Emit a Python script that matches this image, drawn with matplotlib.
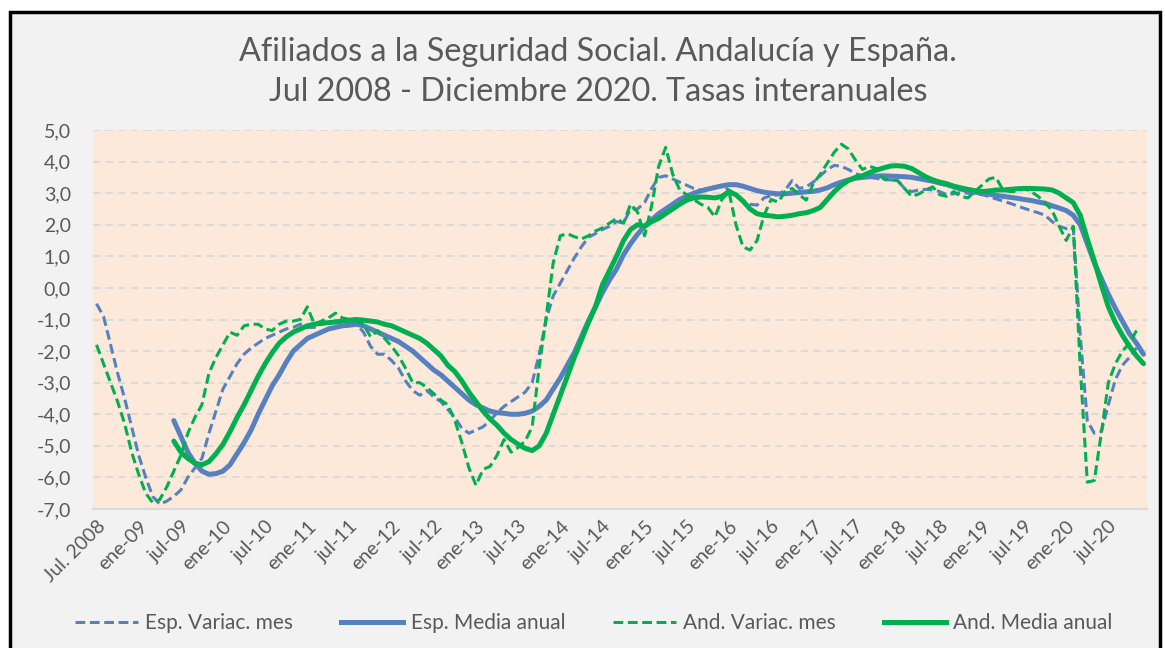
import numpy as np
import matplotlib
matplotlib.use("Agg")
import matplotlib.pyplot as plt
from matplotlib.patches import Rectangle
from matplotlib.lines import Line2D

nan = np.nan

# ---------------- DATA ----------------
title_text = ("Afiliados a la Seguridad Social. Andalucía y España.\n"
              "Jul 2008 - Diciembre 2020. Tasas interanuales")

series_names = ["Esp. Variac. mes", "Esp. Media anual",
                "And. Variac. mes", "And. Media anual"]

# monthly, Jul 2008 .. Dec 2020 (150 months)
esp_variac_mes = [
    -0.5, -0.9, -1.8, -2.7, -3.5, -4.4, -5.3, -6.0, -6.6, -6.85,
    -6.75, -6.6, -6.4, -6.0, -5.7, -5.4, -4.6, -3.9, -3.2, -2.8,
    -2.4, -2.1, -1.9, -1.75, -1.6, -1.5, -1.4, -1.3, -1.25, -1.15,
    -1.25, -1.25, -1.15, -1.1, -1.05, -1.05, -1.1, -1.15, -1.4, -1.85,
    -2.1, -2.1, -2.3, -2.55, -2.95, -3.25, -3.4, -3.25, -3.45, -3.6,
    -3.85, -4.1, -4.45, -4.6, -4.5, -4.4, -4.2, -3.95, -3.75, -3.6,
    -3.45, -3.3, -3.0, -2.1, -1.0, -0.25, 0.15, 0.55, 0.95, 1.3,
    1.6, 1.72, 1.85, 1.95, 2.1, 2.05, 2.5, 2.5, 2.7, 3.15,
    3.5, 3.55, 3.45, 3.35, 3.25, 3.15, 3.1, 3.15, 3.2, 3.25,
    3.1, 2.95, 2.78, 2.65, 2.62, 2.85, 2.92, 2.95, 3.1, 3.4,
    3.15, 3.2, 3.35, 3.55, 3.75, 3.88, 3.85, 3.75, 3.62, 3.55,
    3.5, 3.47, 3.43, 3.42, 3.4, 3.15, 3.05, 3.1, 3.12, 3.1,
    3.05, 2.95, 2.98, 3.02, 3.0, 2.98, 2.95, 2.9, 2.82, 2.75,
    2.68, 2.6, 2.52, 2.45, 2.38, 2.3, 2.1, 1.95, 1.88, 1.93,
    -1.5, -4.2, -4.6, -4.55, -3.7, -2.9, -2.45, -2.2, -1.9, nan,
]

esp_media_anual = [
    nan, nan, nan, nan, nan, nan, nan, nan, nan, nan,
    nan, -4.2, -4.7, -5.2, -5.55, -5.8, -5.9, -5.88, -5.8, -5.6,
    -5.25, -4.9, -4.5, -4.0, -3.55, -3.1, -2.75, -2.35, -2.0, -1.8,
    -1.6, -1.5, -1.4, -1.3, -1.25, -1.2, -1.18, -1.15, -1.2, -1.3,
    -1.4, -1.5, -1.6, -1.7, -1.85, -2.0, -2.2, -2.4, -2.6, -2.75,
    -2.95, -3.15, -3.35, -3.55, -3.7, -3.8, -3.9, -3.95, -3.97, -4.0,
    -4.0, -3.97, -3.9, -3.75, -3.55, -3.2, -2.85, -2.45, -2.05, -1.55,
    -1.05, -0.6, -0.15, 0.25, 0.6, 1.05, 1.4, 1.7, 1.95, 2.15,
    2.35, 2.5, 2.65, 2.8, 2.9, 3.0, 3.07, 3.13, 3.18, 3.23,
    3.27, 3.27, 3.22, 3.15, 3.08, 3.03, 3.0, 2.98, 2.98, 3.0,
    3.02, 3.04, 3.06, 3.1, 3.17, 3.27, 3.35, 3.42, 3.47, 3.5,
    3.52, 3.54, 3.55, 3.54, 3.53, 3.52, 3.5, 3.46, 3.42, 3.38,
    3.32, 3.27, 3.2, 3.13, 3.07, 3.03, 3.0, 2.97, 2.93, 2.9,
    2.87, 2.84, 2.8, 2.77, 2.72, 2.68, 2.6, 2.53, 2.45, 2.3,
    2.0, 1.4, 0.8, 0.3, -0.2, -0.65, -1.05, -1.45, -1.75, -2.1,
]

and_variac_mes = [
    -1.8, -2.4, -3.0, -3.6, -4.3, -5.2, -5.9, -6.5, -6.8, -6.7,
    -6.3, -5.8, -5.3, -4.6, -4.1, -3.7, -2.7, -2.2, -1.8, -1.4,
    -1.5, -1.2, -1.15, -1.15, -1.3, -1.35, -1.15, -1.05, -1.05, -1.0,
    -0.6, -1.15, -1.05, -0.95, -0.8, -0.95, -1.0, -1.05, -1.15, -1.55,
    -1.35, -1.6, -1.85, -2.15, -2.55, -3.0, -3.0, -3.15, -3.35, -3.55,
    -3.7, -4.2, -4.9, -5.7, -6.25, -5.75, -5.65, -5.3, -4.8, -5.2,
    -5.05, -4.85, -4.4, -2.5, -0.9, 0.8, 1.65, 1.72, 1.62, 1.55,
    1.65, 1.8, 1.9, 2.05, 2.2, 2.05, 2.65, 2.4, 1.65, 2.6,
    3.85, 4.45, 3.6, 3.1, 2.95, 2.8, 2.65, 2.55, 2.25, 2.8,
    3.05, 2.0, 1.3, 1.2, 1.5, 2.3, 2.8, 2.72, 3.05, 3.15,
    2.95, 2.78, 3.3, 3.6, 3.95, 4.3, 4.55, 4.4, 4.05, 3.75,
    3.85, 3.78, 3.45, 3.42, 3.4, 3.15, 2.9, 2.97, 3.1, 3.2,
    2.95, 2.9, 3.05, 2.9, 2.85, 3.05, 3.25, 3.45, 3.5, 3.1,
    3.05, 3.05, 3.15, 3.05, 2.9, 2.7, 2.45, 1.95, 1.5, 1.95,
    -2.5, -6.15, -6.1, -4.6, -3.0, -2.4, -2.0, -1.75, -1.35, nan,
]

and_media_anual = [
    nan, nan, nan, nan, nan, nan, nan, nan, nan, nan,
    nan, -4.85, -5.2, -5.4, -5.55, -5.6, -5.5, -5.25, -4.95, -4.55,
    -4.1, -3.7, -3.25, -2.8, -2.4, -2.05, -1.75, -1.55, -1.4, -1.3,
    -1.2, -1.15, -1.12, -1.1, -1.08, -1.05, -1.02, -1.0, -1.02, -1.05,
    -1.08, -1.15, -1.2, -1.3, -1.4, -1.5, -1.6, -1.75, -1.95, -2.15,
    -2.45, -2.65, -2.95, -3.3, -3.6, -3.9, -4.15, -4.35, -4.6, -4.8,
    -4.95, -5.08, -5.15, -5.0, -4.6, -4.0, -3.4, -2.8, -2.2, -1.65,
    -1.1, -0.6, 0.1, 0.55, 1.0, 1.5, 1.85, 2.0, 1.95, 2.1,
    2.2, 2.35, 2.5, 2.65, 2.78, 2.85, 2.88, 2.87, 2.85, 2.9,
    3.05, 2.95, 2.75, 2.5, 2.35, 2.3, 2.28, 2.25, 2.27, 2.3,
    2.35, 2.38, 2.45, 2.55, 2.8, 3.05, 3.25, 3.4, 3.5, 3.55,
    3.65, 3.73, 3.8, 3.86, 3.87, 3.85, 3.78, 3.65, 3.52, 3.42,
    3.35, 3.3, 3.22, 3.17, 3.12, 3.08, 3.05, 3.07, 3.1, 3.1,
    3.12, 3.14, 3.15, 3.15, 3.14, 3.13, 3.1, 3.0, 2.85, 2.7,
    2.3, 1.55, 0.85, 0.1, -0.6, -1.1, -1.5, -1.85, -2.15, -2.4,
]

x_tick_labels = ["Jul. 2008", "ene-09", "jul-09", "ene-10", "jul-10", "ene-11",
                 "jul-11", "ene-12", "jul-12", "ene-13", "jul-13", "ene-14",
                 "jul-14", "ene-15", "jul-15", "ene-16", "jul-16", "ene-17",
                 "jul-17", "ene-18", "jul-18", "ene-19", "jul-19", "ene-20",
                 "jul-20"]
y_ticks = [5, 4, 3, 2, 1, 0, -1, -2, -3, -4, -5, -6, -7]
y_tick_labels = ["5,0", "4,0", "3,0", "2,0", "1,0", "0,0", "-1,0", "-2,0",
                 "-3,0", "-4,0", "-5,0", "-6,0", "-7,0"]

# ---------------- STYLE ----------------
plt.rcParams["font.family"] = ["Lato", "DejaVu Sans"]
BLUE = "#5581c1"
GREEN = "#00b050"
TXT = "#595959"

W, H = 1165, 648
fig = plt.figure(figsize=(W / 100, H / 100), dpi=100, facecolor="white")

# chart frame
fig.patches.append(Rectangle((10 / W, -0.02), 1150 / W, (H - 12) / H + 0.02,
                             transform=fig.transFigure, facecolor="#f2f2f2",
                             edgecolor="black", linewidth=2.5, zorder=-10))

ax = fig.add_axes([93 / W, 1 - 509 / H, (1147 - 93) / W, (509 - 130) / H])
ax.set_facecolor("#fde9da")

n = len(esp_variac_mes)
x = np.arange(n)

dash = (3.2, 1.5)
LWD = 2.2
LWS = 3.6
ax.plot(x, esp_variac_mes, color=BLUE, lw=LWD, dashes=dash, label=series_names[0], zorder=3)
ax.plot(x, esp_media_anual, color=BLUE, lw=LWS, label=series_names[1], zorder=4,
        solid_capstyle="round", solid_joinstyle="round")
ax.plot(x, and_variac_mes, color=GREEN, lw=LWD, dashes=dash, label=series_names[2], zorder=5)
ax.plot(x, and_media_anual, color=GREEN, lw=LWS, label=series_names[3], zorder=6,
        solid_capstyle="round", solid_joinstyle="round")

ax.set_xlim(-0.5, n - 0.5)
ax.set_ylim(-7, 5)
ax.set_yticks(y_ticks)
ax.set_yticklabels(y_tick_labels)
ax.set_xticks(np.arange(0, n, 6)[:len(x_tick_labels)])
ax.set_xticklabels(x_tick_labels, rotation=45, ha="right", rotation_mode="anchor")
ax.tick_params(axis="both", length=0, colors=TXT, labelsize=14)
ax.tick_params(axis="y", pad=16)
ax.tick_params(axis="x", pad=6)

ax.grid(axis="y", color="#d9d9d9", linestyle=(0, (4, 3)), linewidth=1.3, zorder=0)
ax.set_axisbelow(True)
for s in ["top", "left", "right"]:
    ax.spines[s].set_visible(False)
ax.spines["bottom"].set_color("#d9d9d9")
ax.spines["bottom"].set_linewidth(1.5)

fig.text(598 / W, 1 - 72 / H, title_text, ha="center", va="center",
         fontsize=23.3, color=TXT, linespacing=1.4)

handles = [Line2D([], [], color=BLUE, lw=LWD, dashes=dash),
           Line2D([], [], color=BLUE, lw=LWS),
           Line2D([], [], color=GREEN, lw=LWD, dashes=dash),
           Line2D([], [], color=GREEN, lw=LWS)]
fig.legend(handles, series_names, loc="center", ncol=4, frameon=False,
           bbox_to_anchor=(594 / W, 1 - 623 / H), fontsize=15,
           handlelength=3.0, handletextpad=0.35, columnspacing=2.3,
           labelcolor=TXT)

fig.savefig("out.png", dpi=100, facecolor=fig.get_facecolor())
